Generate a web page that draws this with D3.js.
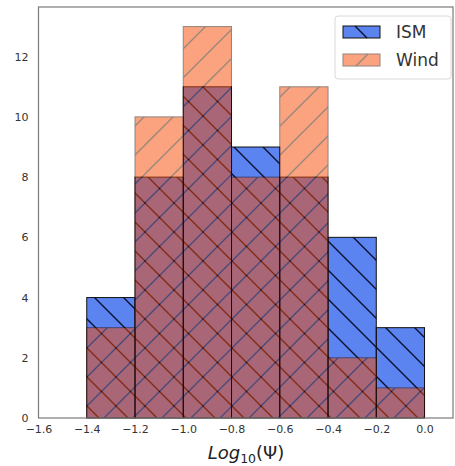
<!DOCTYPE html>
<html><head><meta charset="utf-8">
<script src="https://cdn.jsdelivr.net/npm/d3@7"></script>
<style>body{margin:0;background:#fff}svg{display:block}</style>
</head><body>
<svg id="c" width="455" height="466"></svg>
<script>
const binEdges = [-1.4, -1.2, -1.0, -0.8, -0.6, -0.4, -0.2, 0.0];
const ismCounts = [4, 8, 11, 9, 8, 6, 3];
const windCounts = [3, 10, 13, 8, 11, 2, 1];
const xTicks = [-1.6, -1.4, -1.2, -1.0, -0.8, -0.6, -0.4, -0.2, 0.0];
const yTicks = [0, 2, 4, 6, 8, 10, 12];
const seriesNames = ["ISM", "Wind"];

const svg = d3.select("#c");
const L = 38.5, R = 453, T = 7, B = 418;
const x = d3.scaleLinear().domain([-1.6, 0.118]).range([L, R]);
const y = d3.scaleLinear().domain([0, 13.65]).range([B, T]);

const defs = svg.append("defs");
const hs = 29;
function pat(id, back, color, width) {
  const p = defs.append("pattern").attr("id", id).attr("patternUnits", "userSpaceOnUse")
    .attr("width", hs).attr("height", hs);
  if (back) {
    p.append("path").attr("d", `M0,0 L${hs},${hs} M${-hs},0 L${hs},${2*hs} M0,${-hs} L${2*hs},${hs}`)
      .attr("stroke", color).attr("stroke-width", width).attr("fill", "none");
  } else {
    p.append("path").attr("d", `M0,${hs} L${hs},0 M${-hs},${hs} L${hs},${-hs} M0,${2*hs} L${2*hs},0`)
      .attr("stroke", color).attr("stroke-width", width).attr("fill", "none");
  }
}
pat("hISM", true, "#0a0f30", 1.4);
pat("hWind", false, "#3a1000", 1.4);

const ismFill = "#5c84f0";
const windFill = "rgb(246,74,0)";
const windAlpha = 0.5;

const bins = ismCounts.map((c, i) => ({x0: binEdges[i], x1: binEdges[i+1], ism: c, wind: windCounts[i]}));

const g = svg.append("g");
// ISM
const gi = g.append("g");
gi.selectAll("rect.f").data(bins).join("rect")
  .attr("x", d => x(d.x0)).attr("width", d => x(d.x1) - x(d.x0))
  .attr("y", d => y(d.ism)).attr("height", d => y(0) - y(d.ism))
  .attr("fill", ismFill);
gi.selectAll("rect.h").data(bins).join("rect")
  .attr("x", d => x(d.x0)).attr("width", d => x(d.x1) - x(d.x0))
  .attr("y", d => y(d.ism)).attr("height", d => y(0) - y(d.ism))
  .attr("fill", "url(#hISM)").attr("stroke", "#111").attr("stroke-width", 1);
// Wind
const gw = g.append("g").attr("opacity", windAlpha);
gw.selectAll("rect.f").data(bins).join("rect")
  .attr("x", d => x(d.x0)).attr("width", d => x(d.x1) - x(d.x0))
  .attr("y", d => y(d.wind)).attr("height", d => y(0) - y(d.wind))
  .attr("fill", windFill);
gw.selectAll("rect.h").data(bins).join("rect")
  .attr("x", d => x(d.x0)).attr("width", d => x(d.x1) - x(d.x0))
  .attr("y", d => y(d.wind)).attr("height", d => y(0) - y(d.wind))
  .attr("fill", "url(#hWind)").attr("stroke", "#2a0800").attr("stroke-width", 1);

// frame
svg.append("rect").attr("x", L).attr("y", T).attr("width", R - L).attr("height", B - T)
  .attr("fill", "none").attr("stroke", "#7a7a7a").attr("stroke-width", 1.2);

// axes (no tick marks)
const xa = svg.append("g").attr("transform", `translate(0,${B})`)
  .call(d3.axisBottom(x).tickValues(xTicks).tickSize(0).tickPadding(7)
    .tickFormat(d => d3.format(".1f")(d).replace("-", "\u2212")));
const ya = svg.append("g").attr("transform", `translate(${L},0)`)
  .call(d3.axisLeft(y).tickValues(yTicks).tickSize(0).tickPadding(10).tickFormat(d3.format("d")));
[xa, ya].forEach(a => {
  a.select(".domain").remove();
  a.selectAll("text").attr("font-family", "DejaVu Sans").attr("font-size", 11).attr("fill", "#333");
});

// x label
const xl = svg.append("text").attr("x", 246).attr("y", 459).attr("text-anchor", "middle")
  .attr("font-family", "DejaVu Sans").attr("font-size", 18).attr("fill", "#222");
xl.append("tspan").attr("font-style", "italic").text("Log");
xl.append("tspan").attr("font-size", 12.5).attr("dy", 4).text("10");
xl.append("tspan").attr("dy", -4).text("(\u03A8)");

// legend
const lg = svg.append("g");
lg.append("rect").attr("x", 335).attr("y", 16).attr("width", 116).attr("height", 63).attr("rx", 3)
  .attr("fill", "#fff").attr("fill-opacity", 0.8).attr("stroke", "#d8d8d8");
const items = [{name: seriesNames[0], yy: 26}, {name: seriesNames[1], yy: 54}];
lg.append("rect").attr("x", 343).attr("y", items[0].yy).attr("width", 37).attr("height", 12).attr("fill", ismFill);
lg.append("line").attr("x1", 355).attr("y1", items[0].yy).attr("x2", 367).attr("y2", items[0].yy + 12).attr("stroke", "#0a0f30").attr("stroke-width", 1.4);
lg.append("rect").attr("x", 343).attr("y", items[0].yy).attr("width", 37).attr("height", 12).attr("fill", "none").attr("stroke", "#111");
const lw = lg.append("g").attr("opacity", windAlpha);
lw.append("rect").attr("x", 343).attr("y", items[1].yy).attr("width", 37).attr("height", 12).attr("fill", windFill);
lw.append("line").attr("x1", 356).attr("y1", items[1].yy + 12).attr("x2", 368).attr("y2", items[1].yy).attr("stroke", "#3a1000").attr("stroke-width", 1.4);
lw.append("rect").attr("x", 343).attr("y", items[1].yy).attr("width", 37).attr("height", 12).attr("fill", "none").attr("stroke", "#2a0800");
items.forEach(it => {
  lg.append("text").attr("x", 396).attr("y", it.yy + 12).attr("font-family", "DejaVu Sans")
    .attr("font-size", 17).attr("fill", "#333").text(it.name);
});
</script>
</body></html>
